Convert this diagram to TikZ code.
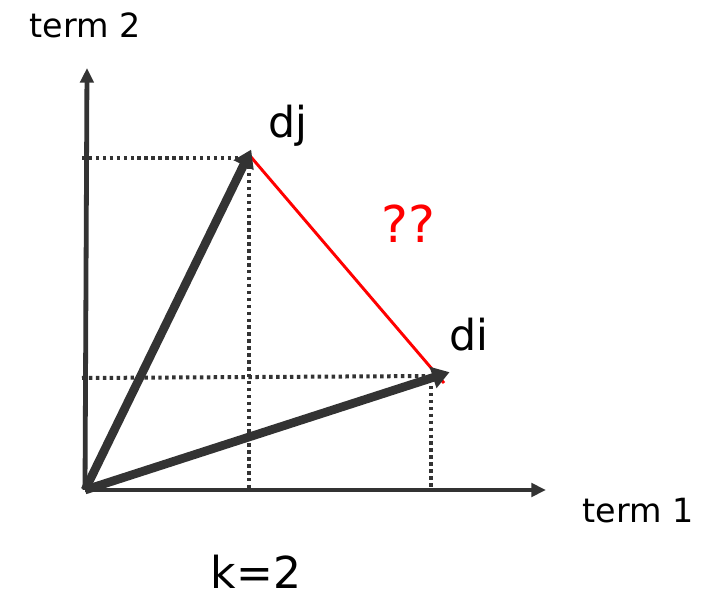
\documentclass[tikz,border=0pt]{standalone}
\usepackage{fontspec}
\setmainfont{DejaVu Sans}
\usepackage{tikz}
\usetikzlibrary{arrows.meta}
\definecolor{axisgray}{HTML}{333333}
\definecolor{distred}{HTML}{FF0000}

\begin{document}
\begin{tikzpicture}[x=0.75pt,y=-0.75pt,
  axis/.style={draw=axisgray,line width=3.6pt,-{Triangle[length=11pt,width=10pt]}},
  vec/.style={draw=axisgray,line width=6.5pt,-{Triangle[length=13pt,width=16pt]},shorten >=-2pt},
  proj/.style={draw=axisgray,line width=3pt,dash pattern=on 2.6pt off 2.6pt},
  lbl/.style={font=\fontsize{25}{28}\selectfont,inner sep=0pt}]
\useasboundingbox (0,0) rectangle (704,602);
% points
\coordinate (o) at (85,490);
\coordinate (ytop) at (87,68);
\coordinate (xend) at (546,490);
\coordinate (dj) at (250,152);
\coordinate (di) at (447,373);
% dotted projections
\draw[proj] (82,158) -- (242,158);
\draw[proj] (249,166) -- (249,490);
\draw[proj] (82,378) -- (434,376);
\draw[proj] (431,386) -- (431,490);
% axes
\draw[axis] (o) -- (ytop);
\draw[axis] (o) -- (xend);
% distance
\draw[distred,line width=2.2pt] (251,157) -- (444,383);
% document vectors
\draw[vec] (o) -- (dj);
\draw[vec] (o) -- (di);
% labels
\node[lbl] (t2) at (85,25) {term 2};
\node[lbl] (t1) at (638,511) {term 1};
\node[lbl,font=\fontsize{32}{36}\selectfont] (djl) at (288,126) {dj};
\node[lbl,font=\fontsize{32}{36}\selectfont] (dil) at (469,335) {di};
\node[lbl,font=\fontsize{38}{40}\selectfont,text=distred] (q) at (408,224) {??};
\node[lbl,font=\fontsize{33}{36}\selectfont] (k) at (256,572) {k=2};
\end{tikzpicture}
\end{document}
